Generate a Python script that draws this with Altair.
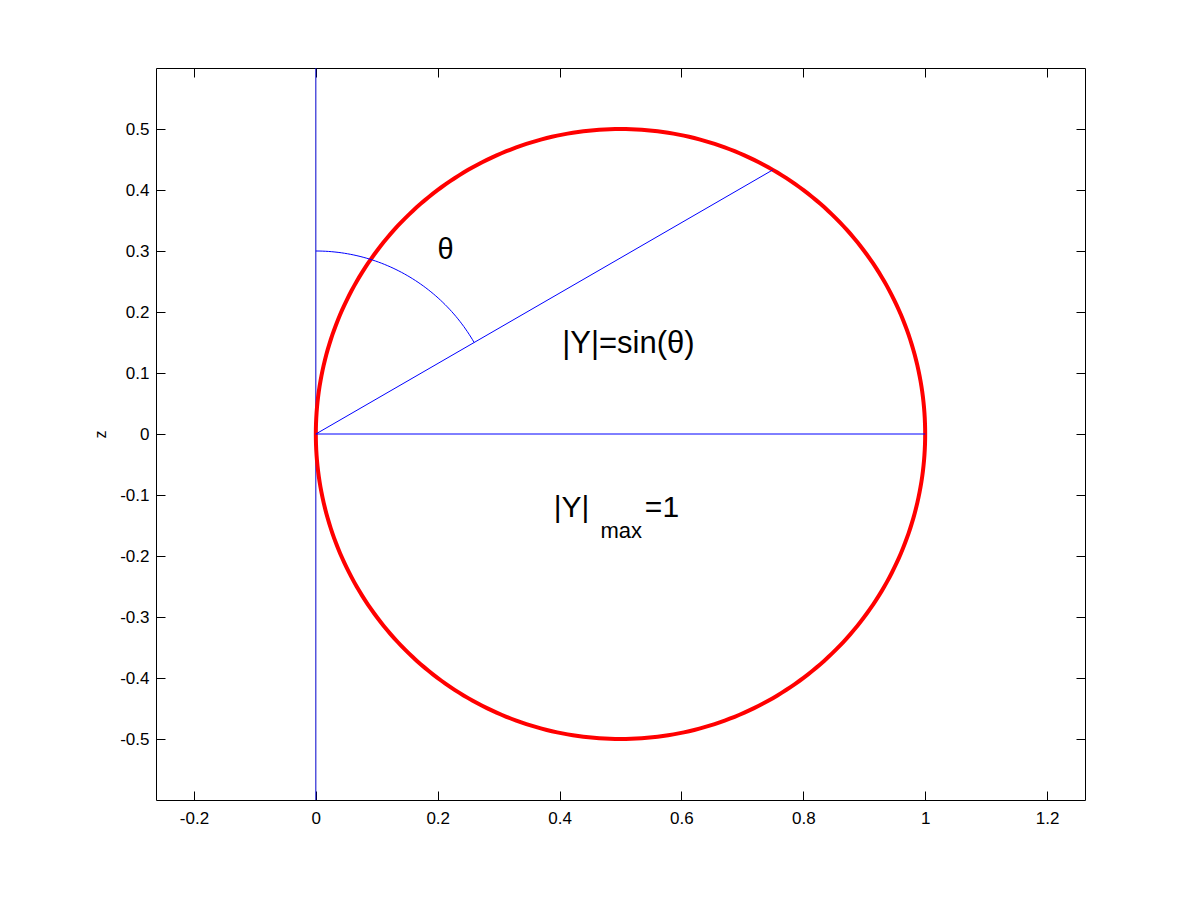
import altair as alt
import numpy as np
import pandas as pd

# --- data ---
x_ticks = [-0.2, 0, 0.2, 0.4, 0.6, 0.8, 1.0, 1.2]
y_ticks = [-0.5, -0.4, -0.3, -0.2, -0.1, 0, 0.1, 0.2, 0.3, 0.4, 0.5]
x_domain = [-0.2623, 1.2623]
y_domain = [-0.6, 0.6]

circle_center = [0.5, 0.0]
circle_radius = 0.5
theta_deg = 60
arc_radius = 0.3

# straight blue segments: (x, z) endpoints
seg_id = ["h", "h", "r", "r"]
seg_x = [0.0, 1.0, 0.0, 0.75]
seg_z = [0.0, 0.0, 0.0, 0.433]

label_text = ["θ", "|Y|=sin(θ)"]
label_x = [0.213, 0.513]
label_z = [0.302, 0.148]
label_size = [29, 31]

ymax_text = ["|Y|", "max", "=1"]
ymax_x = [0.449, 0.467, 0.540]
ymax_z = [-0.136, -0.1705, -0.136]
ymax_align = ["right", "left", "left"]
ymax_size = [30, 22, 30]

# --- derived geometry tables ---
t = np.linspace(0, 2 * np.pi, 361)
circle_df = pd.DataFrame({
    "x": circle_center[0] + circle_radius * np.cos(t),
    "z": circle_center[1] + circle_radius * np.sin(t),
    "o": np.arange(len(t)),
})
a = np.radians(np.linspace(0, theta_deg, 61))
arc_df = pd.DataFrame({
    "x": arc_radius * np.sin(a),
    "z": arc_radius * np.cos(a),
    "o": np.arange(len(a)),
})
seg_df = pd.DataFrame({"id": seg_id, "x": seg_x, "z": seg_z})

FONT = "Liberation Sans"
xs = alt.Scale(domain=x_domain, nice=False, zero=False)
ys = alt.Scale(domain=y_domain, nice=False, zero=False)

lab_expr = "toString(round(datum.value*10)/10)"
ax_common = dict(grid=False, domain=False, tickColor="black", tickWidth=1,
                 tickSize=alt.ExprRef(expr="-9"), labelFont=FONT,
                 labelFontSize=17, labelColor="black", labelExpr=lab_expr)

x_bottom = alt.Axis(orient="bottom", values=x_ticks, labelPadding=19, title=None,
                    **ax_common)
y_left = alt.Axis(orient="left", values=y_ticks, labelPadding=16, title="z",
                  titleFont=FONT, titleFontSize=16, titleFontWeight="normal",
                  titleColor="black", titleAngle=-90, titleX=-56, titleY=366,
                  titleAlign="center", titleBaseline="middle", **ax_common)
x_top = alt.Axis(orient="top", values=x_ticks, labels=False, title=None,
                 grid=False, domain=False, tickColor="black",
                 tickSize=alt.ExprRef(expr="-9"))
y_right = alt.Axis(orient="right", values=y_ticks, labels=False, title=None,
                   grid=False, domain=False, tickColor="black",
                   tickSize=alt.ExprRef(expr="-9"))

zero_df = pd.DataFrame({"x": [0.0]})

vline = alt.Chart(zero_df).mark_rule(color="#0000cc", strokeWidth=1).encode(
    x=alt.X("x:Q", scale=xs, axis=x_bottom),
)
frame_axes = alt.Chart(zero_df).mark_point(opacity=0).encode(
    x=alt.X("x:Q", scale=xs, axis=x_top),
    y=alt.Y("x:Q", scale=ys, axis=y_right),
)
ydummy = alt.Chart(zero_df).mark_point(opacity=0).encode(
    x=alt.X("x:Q", scale=xs, axis=None),
    y=alt.Y("x:Q", scale=ys, axis=y_left),
)

circle = alt.Chart(circle_df).mark_line(color="#ff0000", strokeWidth=4,
                                        clip=True).encode(
    x=alt.X("x:Q", scale=xs, axis=None),
    y=alt.Y("z:Q", scale=ys, axis=None),
    order="o:Q",
)
arc = alt.Chart(arc_df).mark_line(color="#0000ff", strokeWidth=1).encode(
    x=alt.X("x:Q", scale=xs, axis=None),
    y=alt.Y("z:Q", scale=ys, axis=None),
    order="o:Q",
)
segs = alt.Chart(seg_df).mark_line(color="#0000ff", strokeWidth=1).encode(
    x=alt.X("x:Q", scale=xs, axis=None),
    y=alt.Y("z:Q", scale=ys, axis=None),
    detail="id:N",
)

text_layers = []
for tt, xx, zz, fs in zip(label_text, label_x, label_z, label_size):
    d = pd.DataFrame({"t": [tt], "x": [xx], "z": [zz]})
    text_layers.append(
        alt.Chart(d).mark_text(font=FONT, color="black", fontSize=fs,
                               align="center", baseline="middle").encode(
            x=alt.X("x:Q", scale=xs, axis=None),
            y=alt.Y("z:Q", scale=ys, axis=None),
            text="t:N",
        )
    )
for tt, xx, zz, al, fs in zip(ymax_text, ymax_x, ymax_z, ymax_align, ymax_size):
    d = pd.DataFrame({"t": [tt], "x": [xx], "z": [zz]})
    text_layers.append(
        alt.Chart(d).mark_text(font=FONT, color="black", fontSize=fs,
                               align=al, baseline="alphabetic").encode(
            x=alt.X("x:Q", scale=xs, axis=None),
            y=alt.Y("z:Q", scale=ys, axis=None),
            text="t:N",
        )
    )

chart = alt.layer(
    vline, ydummy, frame_axes, circle, arc, segs, *text_layers
).resolve_axis(x="independent", y="independent").properties(
    width=929, height=732,
    padding={"left": 148, "top": 60, "right": 107, "bottom": 92},
    autosize=alt.AutoSizeParams(type="none"),
    background="white",
).configure_view(stroke="black", strokeWidth=1)

chart.save("out.html", embed_options={"renderer": "svg", "actions": False})
